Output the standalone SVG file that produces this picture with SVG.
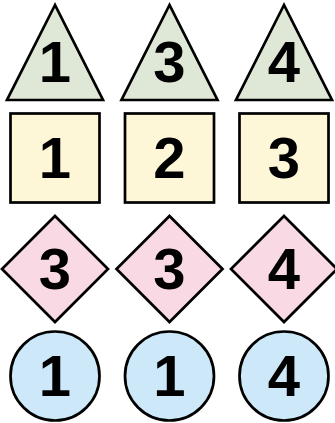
<svg xmlns="http://www.w3.org/2000/svg" width="335" height="423" viewBox="0 0 335 423">
<style>
.s{stroke:#000;stroke-width:2.7;stroke-linejoin:miter}
.tri{fill:#dfe8d6}
.sq{fill:#fdf6d7}
.dia{fill:#f8d9e4}
.cir{fill:#cde8f8}
text{font-family:"Liberation Sans",Arial,sans-serif;font-weight:bold;font-size:58px;text-anchor:middle;fill:#000}
</style>
<rect width="335" height="423" fill="#fff"/>
<g id="t1"><polygon class="s tri" points="55,5 7,100 103,100"/><text x="55" y="82">1</text></g>
<g id="t2"><polygon class="s tri" points="169.5,5 121.5,100 217.5,100"/><text x="169.5" y="82">3</text></g>
<g id="t3"><polygon class="s tri" points="284,5 236,100 332,100"/><text x="284" y="82">4</text></g>
<g id="s1"><rect class="s sq" x="10.5" y="113.5" width="89" height="89"/><text x="55" y="178">1</text></g>
<g id="s2"><rect class="s sq" x="125" y="113.5" width="89" height="89"/><text x="169.5" y="178">2</text></g>
<g id="s3"><rect class="s sq" x="239.5" y="113.5" width="89" height="89"/><text x="284" y="178">3</text></g>
<g id="d1"><polygon class="s dia" points="55,216 108,269 55,322 2,269"/><text x="55" y="289">3</text></g>
<g id="d2"><polygon class="s dia" points="169.5,216 222.5,269 169.5,322 116.5,269"/><text x="169.5" y="289">3</text></g>
<g id="d3"><polygon class="s dia" points="284,216 337,269 284,322 231,269"/><text x="284" y="289">4</text></g>
<g id="c1"><circle class="s cir" cx="55" cy="376" r="44.5"/><text x="55" y="396">1</text></g>
<g id="c2"><circle class="s cir" cx="169.5" cy="376" r="44.5"/><text x="169.5" y="396">1</text></g>
<g id="c3"><circle class="s cir" cx="284" cy="376" r="44.5"/><text x="284" y="396">4</text></g>
<g id="connectors"></g>
</svg>
